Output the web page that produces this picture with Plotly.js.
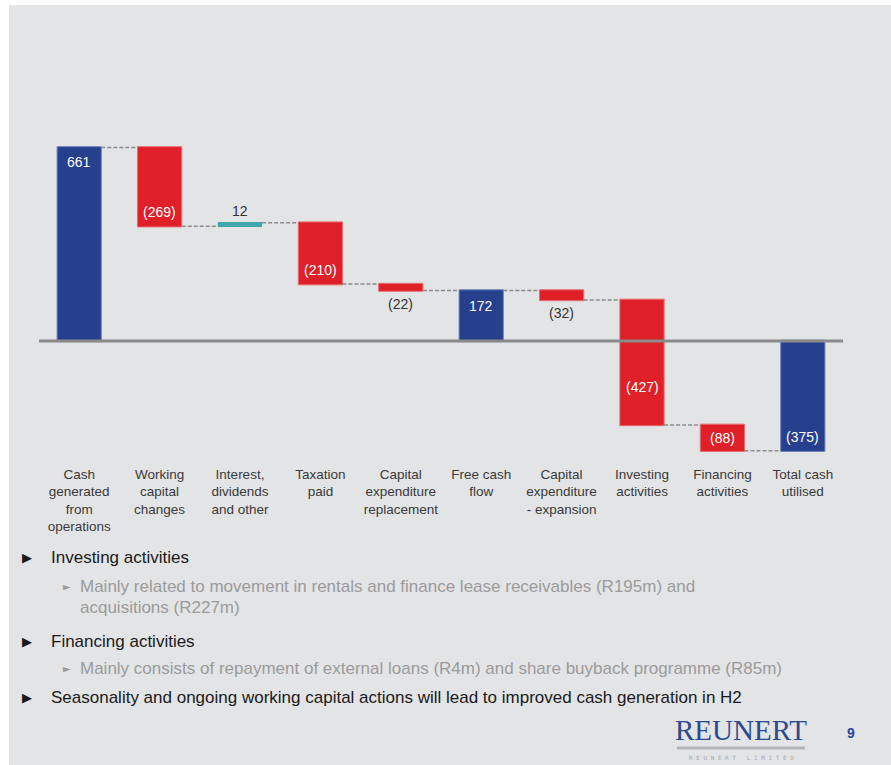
<!DOCTYPE html>
<html>
<head>
<meta charset="utf-8">
<script src="https://cdn.plot.ly/plotly-3.0.1.min.js"></script>
<style>
  html, body { margin: 0; padding: 0; background: #ffffff; }
  #chart { position: absolute; left: 9px; top: 5px; width: 882px; height: 760px; }
</style>
</head>
<body>
<div id="chart"></div>
<script>
// ---- data ----
const categories = [
  'Cash<br>generated<br>from<br>operations',
  'Working<br>capital<br>changes',
  'Interest,<br>dividends<br>and other',
  'Taxation<br>paid',
  'Capital<br>expenditure<br>replacement',
  'Free cash<br>flow',
  'Capital<br>expenditure<br>- expansion',
  'Investing<br>activities',
  'Financing<br>activities',
  'Total cash<br>utilised'
];
const values = [661, -269, 12, -210, -22, 172, -32, -427, -88, -375];
const measures = ['absolute', 'relative', 'relative', 'relative', 'relative',
                  'total', 'relative', 'relative', 'relative', 'total'];

// label placement (style, not data)
const labelPlacement = ['insideTop', 'insideBottom', 'above', 'insideBottom', 'below',
                        'insideTop', 'below', 'centerNeg', 'center', 'insideBottom'];

const bullets = [
  {text: 'Investing activities', y: 557, level: 0},
  {text: 'Mainly related to movement in rentals and finance lease receivables (R195m) and', y: 586, level: 1},
  {text: 'acquisitions (R227m)', y: 607, level: 2},
  {text: 'Financing activities', y: 641, level: 0},
  {text: 'Mainly consists of repayment of external loans (R4m) and share buyback programme (R85m)', y: 668, level: 1},
  {text: 'Seasonality and ongoing working capital actions will lead to improved cash generation in H2', y: 697, level: 0}
];

// ---- geometry helpers ----
const W = 882, H = 760, OX = 9, OY = 5;
const M = {l: 30, r: 48, t: 131, b: 307};
const PW = W - M.l - M.r, PH = H - M.t - M.b;
const px = x => (x - OX - M.l) / PW;
const py = y => 1 - (y - OY - M.t) / PH;

function fmt(v) { return v < 0 ? '(' + (-v) + ')' : String(v); }

// compute bar extents from data
let running = 0;
const tops = [], bottoms = [];
values.forEach((v, i) => {
  let start, end;
  if (measures[i] === 'absolute') { start = 0; end = v; running = v; }
  else if (measures[i] === 'total') { start = 0; end = running; }
  else { start = running; end = running + v; running = end; }
  tops.push(Math.max(start, end));
  bottoms.push(Math.min(start, end));
});

const annotations = [];
values.forEach((v, i) => {
  const p = labelPlacement[i];
  let y, shift = 0, color = '#ffffff';
  if (p === 'insideTop') { y = tops[i]; shift = -15; }
  else if (p === 'insideBottom') { y = bottoms[i]; shift = 14; }
  else if (p === 'above') { y = tops[i]; shift = 12; color = '#333333'; }
  else if (p === 'below') { y = bottoms[i]; shift = -13; color = '#333333'; }
  else if (p === 'centerNeg') { y = (Math.min(0, tops[i]) + bottoms[i]) / 2; shift = -4; }
  else { y = (tops[i] + bottoms[i]) / 2; }
  annotations.push({
    x: categories[i], y: y, xref: 'x', yref: 'y', yshift: shift,
    text: fmt(v), showarrow: false, xanchor: 'center', yanchor: 'middle',
    font: {family: 'Liberation Sans, Arial, sans-serif', size: 14, color: color}
  });
});

// bullets
bullets.forEach(b => {
  const main = b.level === 0;
  if (b.level < 2) {
    annotations.push({
      xref: 'paper', yref: 'paper', x: px(main ? 20 : 61), y: py(b.y),
      xanchor: 'left', yanchor: 'middle', showarrow: false, text: main ? '▶' : '►',
      font: {family: 'DejaVu Sans, sans-serif', size: main ? 13 : 10, color: main ? '#1a1a1a' : '#9a9a9a'}
    });
  }
  annotations.push({
    xref: 'paper', yref: 'paper', x: px(main ? 49 : 78), y: py(b.y),
    xanchor: 'left', yanchor: 'middle', showarrow: false, text: b.text,
    font: {family: 'Liberation Sans, Arial, sans-serif', size: 17, color: main ? '#1a1a1a' : '#9b9b9b'}
  });
});

// logo and page number
annotations.push({
  xref: 'paper', yref: 'paper', x: px(741), y: py(730), xanchor: 'center', yanchor: 'middle',
  showarrow: false, text: 'REUNERT',
  font: {family: 'Liberation Serif, Times New Roman, serif', size: 29, color: '#2d4a8d'}
});
annotations.push({
  xref: 'paper', yref: 'paper', x: px(741), y: py(757), xanchor: 'center', yanchor: 'middle',
  showarrow: false, text: 'R E U N E R T &nbsp; L I M I T E D',
  font: {family: 'DejaVu Sans Mono, monospace', size: 6, color: '#a8a8a8'}
});
annotations.push({
  xref: 'paper', yref: 'paper', x: px(851), y: py(733), xanchor: 'center', yanchor: 'middle',
  showarrow: false, text: '<b>9</b>',
  font: {family: 'Liberation Sans, Arial, sans-serif', size: 14, color: '#2b44a0'}
});

const trace = {
  type: 'waterfall',
  x: categories,
  y: values,
  measure: measures,
  textposition: 'none',
  hoverinfo: 'skip',
  increasing: {marker: {color: '#3fa8a9', line: {color: '#3fa8a9', width: 0}}},
  decreasing: {marker: {color: '#df2029', line: {color: '#ea6a70', width: 1}}},
  totals: {marker: {color: '#26408e', line: {color: '#6d80bd', width: 1}}},
  connector: {mode: 'between', line: {color: '#8c8c8c', width: 1.5, dash: '4px,2px'}}
};

const layout = {
  width: W, height: H,
  margin: M,
  paper_bgcolor: '#e3e4e6',
  plot_bgcolor: 'rgba(0,0,0,0)',
  showlegend: false,
  waterfallgap: 0.45,
  xaxis: {
    type: 'category', showgrid: false, zeroline: false, showline: false, ticks: '',
    ticklabelstandoff: 6,
    tickfont: {family: 'Liberation Sans, Arial, sans-serif', size: 13.5, color: '#3a3a3a'},
    fixedrange: true
  },
  yaxis: {
    range: [-400, 700], showgrid: false, zeroline: false, showline: false,
    showticklabels: false, ticks: '', fixedrange: true
  },
  shapes: [
    {type: 'line', xref: 'paper', yref: 'y', x0: 0, x1: 1, y0: 0, y1: 0,
     line: {color: '#8b8b8b', width: 3}, layer: 'above'},
    {type: 'line', xref: 'paper', yref: 'paper', x0: px(677), x1: px(805), y0: py(748), y1: py(748),
     line: {color: '#b4b4b4', width: 3}}
  ],
  annotations: annotations
};

Plotly.newPlot('chart', [trace], layout, {displayModeBar: false, staticPlot: true});
</script>
</body>
</html>
